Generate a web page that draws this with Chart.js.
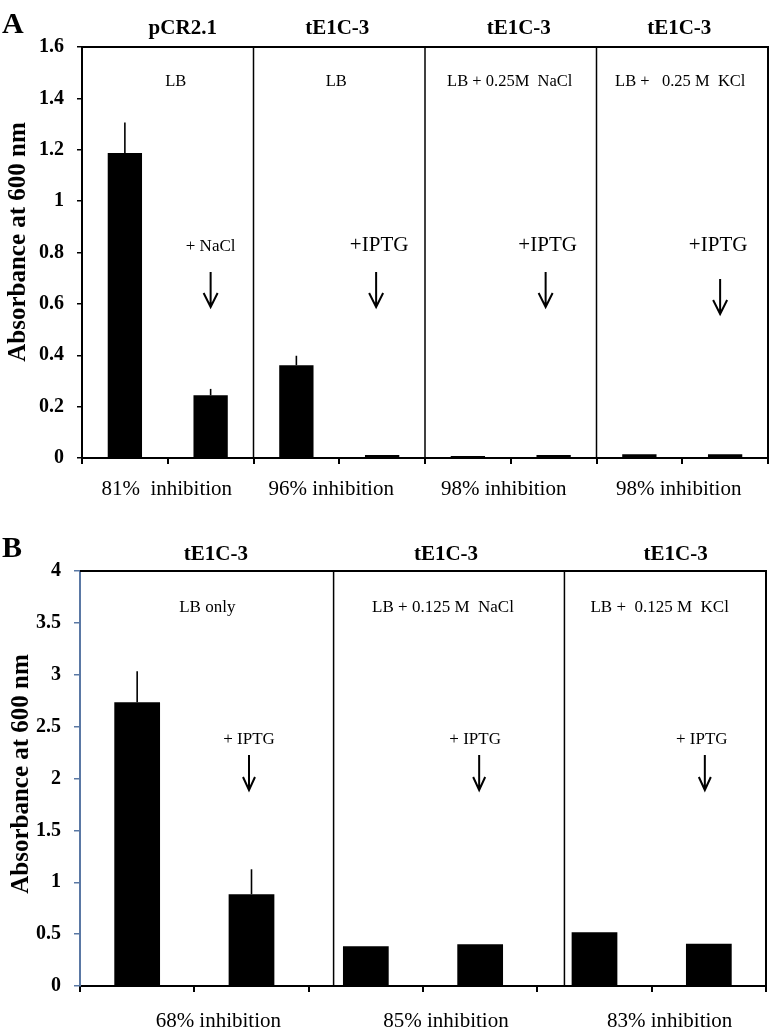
<!DOCTYPE html>
<html>
<head>
<meta charset="utf-8">
<script src="https://cdn.jsdelivr.net/npm/chart.js@4.4.1/dist/chart.umd.min.js"></script>
<style>
  html, body { margin: 0; padding: 0; background: #fff; }
  .panel { position: absolute; left: 0; width: 773px; }
</style>
</head>
<body>
<div class="panel" style="top:0;height:520px"><canvas id="chartA"></canvas></div>
<div class="panel" style="top:520px;height:513px"><canvas id="chartB"></canvas></div>
<script>
// ---- panel A data ----
const catsA = ['pCR2.1 LB', 'pCR2.1 LB + NaCl', 'tE1C-3 LB', 'tE1C-3 LB + IPTG',
  'tE1C-3 NaCl', 'tE1C-3 NaCl + IPTG', 'tE1C-3 KCl', 'tE1C-3 KCl + IPTG'];
const valuesA = [1.187, 0.244, 0.361, 0.012, 0.008, 0.012, 0.015, 0.015];
const errorsA = [0.119, 0.025, 0.037, 0, 0, 0, 0, 0];
const yTicksA = ['0', '0.2', '0.4', '0.6', '0.8', '1', '1.2', '1.4', '1.6'];
const strainsA = ['pCR2.1', 'tE1C-3', 'tE1C-3', 'tE1C-3'];
const mediaA = ['LB', 'LB', 'LB + 0.25M  NaCl', 'LB +   0.25 M  KCl'];
const treatA = ['+ NaCl', '+IPTG', '+IPTG', '+IPTG'];
const inhibA = ['81%  inhibition', '96% inhibition', '98% inhibition', '98% inhibition'];

// ---- panel B data ----
const catsB = ['LB only', 'LB only + IPTG', 'NaCl', 'NaCl + IPTG', 'KCl', 'KCl + IPTG'];
const valuesB = [2.735, 0.884, 0.383, 0.402, 0.518, 0.408];
const errorsB = [0.299, 0.241, 0, 0, 0, 0];
const yTicksB = ['0', '0.5', '1', '1.5', '2', '2.5', '3', '3.5', '4'];
const strainsB = ['tE1C-3', 'tE1C-3', 'tE1C-3'];
const mediaB = ['LB only', 'LB + 0.125 M  NaCl', 'LB +  0.125 M  KCl'];
const treatB = ['+ IPTG', '+ IPTG', '+ IPTG'];
const inhibB = ['68% inhibition', '85% inhibition', '83% inhibition'];

const yTitle = 'Absorbance at 600 nm';
const SERIF = '"Liberation Serif", "Times New Roman", serif';

// layout / style (pixels, not data)
const layoutA = {
  height: 520, pad: { top: 47, right: 5 }, yWidth: 82, xHeight: 62,
  yMax: 1.6, yStep: 0.2, axisColor: '#000', tickLen: 5,
  letter: 'A', letterAt: [2, 33],
  titleAt: [25, 242],
  stripY: 34, stripDx: [15, -2, 8, -3],
  mediaY: 86, mediaDx: [8, -3, -1, -2], mediaSize: 16.5,
  treatY: 251, treatDx: [0, -3, -6, -7], treatSize: [17, 21, 21, 21],
  arrowDx: [0, -6, -8, -5], arrowY: [[272, 307], [272, 307], [272, 307], [279, 314]], head: [7, 14],
  inhibY: 495, inhibDx: [-1, -8, -7, -3.5],
  dividers: [1.5, 3.5, 5.5]
};
const layoutB = {
  height: 513, pad: { top: 51, right: 7 }, yWidth: 80, xHeight: 47,
  yMax: 4, yStep: 0.5, axisColor: '#5a78a4', tickLen: 6,
  letter: 'B', letterAt: [2, 37],
  titleAt: [28, 254],
  stripY: 40, stripDx: [21.5, 23, 24],
  mediaY: 92, mediaDx: [13, 20, 8], mediaSize: 17,
  treatY: 224, treatDx: [-2.5, -5, -7], treatSize: [17, 17, 17],
  arrowDx: [-2.5, -1, -4], arrowY: [[235, 270], [235, 270], [235, 270]], head: [6, 13],
  inhibY: 507, inhibDx: [24, 23, 18],
  dividers: [1.718, 3.737]
};

function annotations(errors, groups, L) {
  return {
    id: 'annot',
    afterDatasetsDraw(chart) {
      const ctx = chart.ctx, y = chart.scales.y;
      const meta = chart.getDatasetMeta(0);
      ctx.save();
      ctx.strokeStyle = '#000';
      ctx.lineWidth = 1.6;
      errors.forEach((e, i) => {
        if (!e) return;
        const v = chart.data.datasets[0].data[i];
        const x = meta.data[i].x;
        ctx.beginPath();
        ctx.moveTo(x, y.getPixelForValue(v));
        ctx.lineTo(x, y.getPixelForValue(v + e));
        ctx.stroke();
      });
      ctx.restore();
    },
    afterDraw(chart) {
      const ctx = chart.ctx, xs = chart.scales.x, a = chart.chartArea;
      ctx.save();
      ctx.strokeStyle = '#000';
      // box top and right
      ctx.lineWidth = 2;
      ctx.beginPath();
      ctx.moveTo(a.left, a.top);
      ctx.lineTo(a.right, a.top);
      ctx.lineTo(a.right, a.bottom);
      ctx.stroke();
      // group dividers
      ctx.lineWidth = 1.5;
      L.dividers.forEach(d => {
        const px = xs.getPixelForValue(d);
        ctx.beginPath();
        ctx.moveTo(px, a.top);
        ctx.lineTo(px, a.bottom);
        ctx.stroke();
      });

      ctx.fillStyle = '#000';
      ctx.textBaseline = 'alphabetic';
      // panel letter
      ctx.textAlign = 'left';
      ctx.font = 'bold 30px ' + SERIF;
      ctx.fillText(L.letter, L.letterAt[0], L.letterAt[1]);
      // y title
      ctx.save();
      ctx.translate(L.titleAt[0], L.titleAt[1]);
      ctx.rotate(-Math.PI / 2);
      ctx.textAlign = 'center';
      ctx.font = 'bold 25px ' + SERIF;
      ctx.fillText(yTitle, 0, 0);
      ctx.restore();

      ctx.textAlign = 'center';
      groups.strains.forEach((s, g) => {
        const gc = (xs.getPixelForValue(2 * g) + xs.getPixelForValue(2 * g + 1)) / 2;
        const c2 = xs.getPixelForValue(2 * g + 1);
        ctx.font = 'bold 21px ' + SERIF;
        ctx.fillText(s, gc + L.stripDx[g], L.stripY);
        ctx.font = L.mediaSize + 'px ' + SERIF;
        ctx.fillText(groups.media[g], gc + L.mediaDx[g], L.mediaY);
        ctx.font = L.treatSize[g] + 'px ' + SERIF;
        ctx.fillText(groups.treat[g], c2 + L.treatDx[g], L.treatY);
        ctx.font = '21px ' + SERIF;
        ctx.fillText(groups.inhib[g], gc + L.inhibDx[g], L.inhibY);
        // arrow
        const ax = c2 + L.arrowDx[g], [y0, y1] = L.arrowY[g];
        ctx.lineWidth = 2;
        ctx.beginPath();
        ctx.moveTo(ax, y0);
        ctx.lineTo(ax, y1);
        ctx.moveTo(ax - L.head[0], y1 - L.head[1]);
        ctx.lineTo(ax, y1);
        ctx.lineTo(ax + L.head[0], y1 - L.head[1]);
        ctx.stroke();
      });
      ctx.restore();
    }
  };
}

function makePanel(id, cats, values, errors, yTicks, groups, L) {
  return new Chart(document.getElementById(id), {
    type: 'bar',
    data: {
      labels: cats,
      datasets: [{
        data: values,
        backgroundColor: '#000',
        borderWidth: 0,
        barPercentage: 0.4,
        categoryPercentage: 1
      }]
    },
    options: {
      responsive: true,
      maintainAspectRatio: false,
      animation: false,
      layout: { padding: { top: L.pad.top, right: L.pad.right, left: 0, bottom: 0 } },
      plugins: { legend: { display: false }, tooltip: { enabled: false } },
      scales: {
        x: {
          afterFit: s => { s.height = L.xHeight; },
          ticks: { display: false },
          grid: { offset: true, drawOnChartArea: false, tickLength: 6, color: '#000', lineWidth: 2 },
          border: { color: '#000', width: 2 }
        },
        y: {
          min: 0, max: L.yMax,
          afterFit: s => { s.width = L.yWidth; },
          ticks: {
            stepSize: L.yStep,
            padding: 13,
            color: '#000',
            font: { family: SERIF, size: 20, weight: 'bold' },
            callback: (v, i) => yTicks[i]
          },
          grid: { drawOnChartArea: false, tickLength: L.tickLen, color: L.axisColor, lineWidth: 1.5 },
          border: { color: L.axisColor, width: 2 }
        }
      }
    },
    plugins: [annotations(errors, groups, L)]
  });
}

makePanel('chartA', catsA, valuesA, errorsA, yTicksA,
  { strains: strainsA, media: mediaA, treat: treatA, inhib: inhibA }, layoutA);
makePanel('chartB', catsB, valuesB, errorsB, yTicksB,
  { strains: strainsB, media: mediaB, treat: treatB, inhib: inhibB }, layoutB);
</script>
</body>
</html>
